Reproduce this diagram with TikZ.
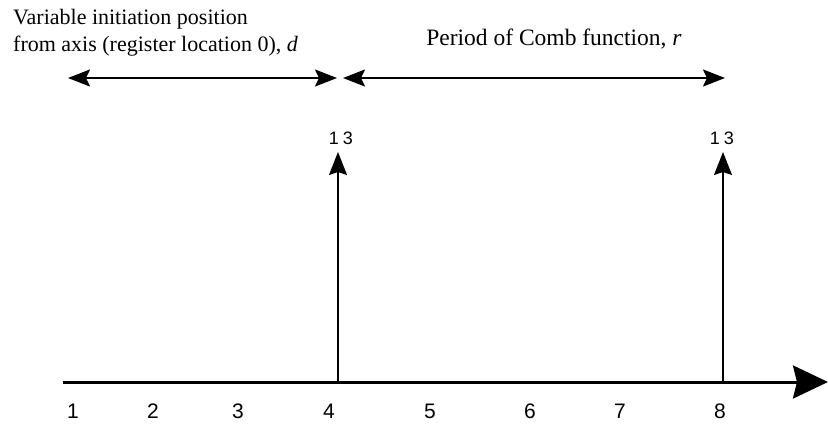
\documentclass[tikz,border=0pt]{standalone}
\usepackage{fontspec}
\setmainfont{Liberation Serif}
\setsansfont{Liberation Sans}
\usetikzlibrary{arrows.meta, positioning}
\tikzset{
  axisline/.style={draw=black, line width=3pt, -{Stealth[length=35pt, width=33pt, inset=4pt]}},
  spanarrow/.style={draw=black, line width=2pt,
    {Stealth[length=22pt, width=17pt, inset=4pt]}-{Stealth[length=22pt, width=17pt, inset=4pt]}},
  combline/.style={draw=black, line width=1.6pt, -{Stealth[length=23pt, width=18pt, inset=3pt]}},
  ticklbl/.style={font=\sffamily\fontsize{21}{21}\selectfont, inner sep=0pt, anchor=base},
  peaklbl/.style={font=\sffamily\fontsize{18}{18}\selectfont, inner sep=0pt, anchor=base},
  toplbl/.style={font=\fontsize{22}{27}\selectfont, inner sep=0pt}
}
\begin{document}
\begin{tikzpicture}[x=1pt, y=-1pt]
  \useasboundingbox (0,0) rectangle (828,425);
  % time axis
  \coordinate (a0) at (63,382);
  \coordinate (a1) at (828,382);
  \draw[axisline] (a0) -- (a1);
  \foreach \x/\n in {73/1, 153/2, 238/3, 329/4, 430/5, 530/6, 620/7, 720/8}{
    \node[ticklbl] (t\n) at (\x,418) {\n};
  }
  % comb impulses
  \coordinate (b4) at (338,382);
  \coordinate (k4) at (338,152);
  \coordinate (b8) at (723,382);
  \coordinate (k8) at (723,152);
  \draw[combline] (b4) -- (k4);
  \draw[combline] (b8) -- (k8);
  \node[peaklbl] (v4) at (341,145) {1\kern4pt3};
  \node[peaklbl] (v8) at (722,145) {1\kern4pt3};
  % spans
  \coordinate (s0) at (68,78);
  \coordinate (s1) at (337,78);
  \coordinate (s2) at (343,78);
  \coordinate (s3) at (725,78);
  \draw[spanarrow] (s0) -- (s1);
  \draw[spanarrow] (s2) -- (s3);
  \node[toplbl, anchor=north west, align=left] (dlbl) at (13,9)
    {Variable initiation position\\from axis (register location 0), \textit{d}};
  \node[toplbl, font=\fontsize{23.5}{27}\selectfont, anchor=base] (rlbl) at (554,46)
    {Period of Comb function, \textit{r}};
\end{tikzpicture}
\end{document}
